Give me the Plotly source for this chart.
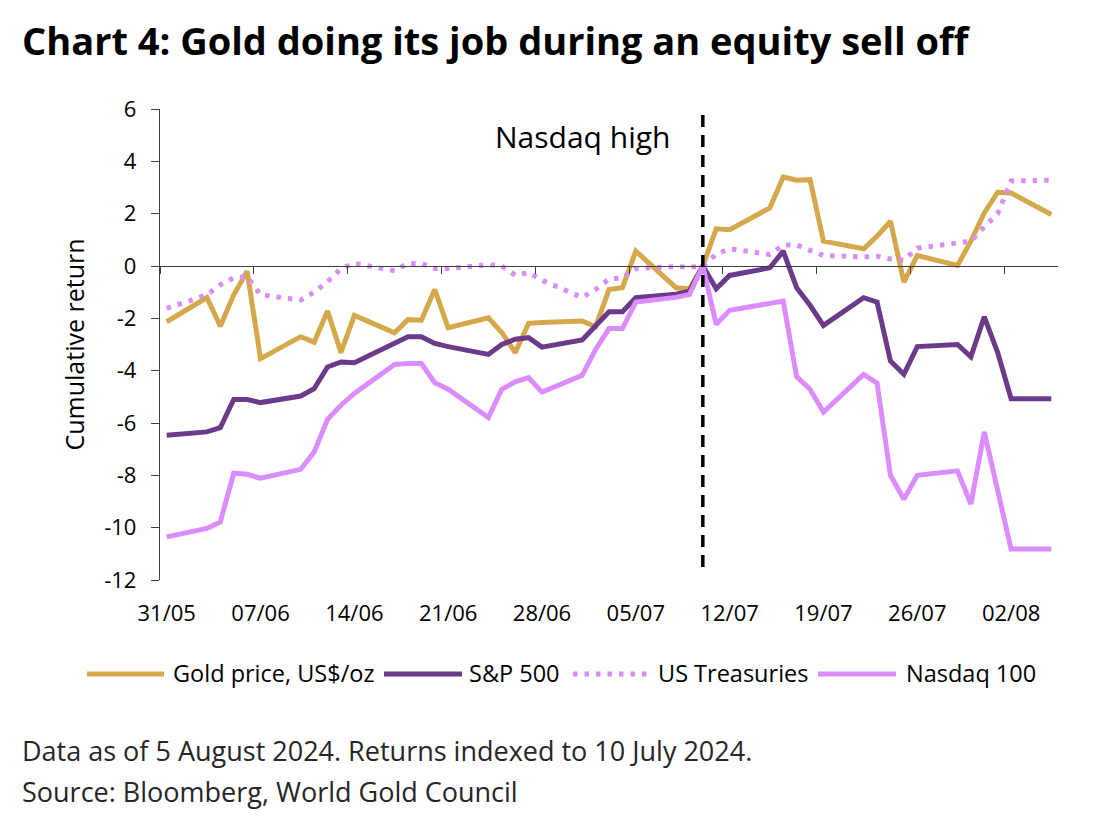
import pandas as pd
import plotly.graph_objects as go

# ---------------- data ----------------
dates = [
    "2024-05-31",
    "2024-06-03", "2024-06-04", "2024-06-05", "2024-06-06", "2024-06-07",
    "2024-06-10", "2024-06-11", "2024-06-12", "2024-06-13", "2024-06-14",
    "2024-06-17", "2024-06-18", "2024-06-19", "2024-06-20", "2024-06-21",
    "2024-06-24", "2024-06-25", "2024-06-26", "2024-06-27", "2024-06-28",
    "2024-07-01", "2024-07-02", "2024-07-03", "2024-07-04", "2024-07-05",
    "2024-07-08", "2024-07-09", "2024-07-10", "2024-07-11", "2024-07-12",
    "2024-07-15", "2024-07-16", "2024-07-17", "2024-07-18", "2024-07-19",
    "2024-07-22", "2024-07-23", "2024-07-24", "2024-07-25", "2024-07-26",
    "2024-07-29", "2024-07-30", "2024-07-31", "2024-08-01", "2024-08-02",
    "2024-08-05",
]

gold = [
    -2.13,
    -1.21, -2.30, -1.10, -0.20, -3.54,
    -2.70, -2.91, -1.72, -3.31, -1.89,
    -2.55, -2.05, -2.07, -0.90, -2.36,
    -1.98, -2.54, -3.31, -2.19, -2.16,
    -2.10, -2.32, -0.90, -0.83, 0.57,
    -0.83, -0.87, 0.00, 1.42, 1.39,
    2.22, 3.40, 3.28, 3.30, 0.95,
    0.66, 1.14, 1.71, -0.62, 0.40,
    0.02, 0.95, 2.03, 2.82, 2.79,
    1.97,
]

sp500 = [
    -6.47,
    -6.34, -6.18, -5.10, -5.10, -5.22,
    -4.97, -4.69, -3.86, -3.67, -3.70,
    -2.93, -2.70, -2.70, -2.96, -3.08,
    -3.38, -3.00, -2.80, -2.74, -3.10,
    -2.83, -2.30, -1.75, -1.75, -1.21,
    -1.08, -0.96, 0.00, -0.87, -0.36,
    -0.07, 0.57, -0.83, -1.50, -2.27,
    -1.21, -1.38, -3.63, -4.14, -3.08,
    -3.00, -3.47, -1.94, -3.31, -5.07,
    -5.07,
]

treasuries = [
    -1.62,
    -1.10, -0.72, -0.45, -0.40, -1.10,
    -1.30, -1.00, -0.60, -0.10, 0.10,
    -0.18, 0.10, 0.10, -0.10, -0.10,
    0.05, 0.00, -0.35, -0.25, -0.55,
    -1.20, -0.90, -0.50, -0.45, -0.10,
    -0.02, -0.05, 0.00, 0.45, 0.66,
    0.44, 0.80, 0.80, 0.60, 0.40,
    0.35, 0.37, 0.27, 0.22, 0.68,
    0.86, 0.95, 1.50, 2.00, 3.25,
    3.28,
]

nasdaq100 = [
    -10.35,
    -10.03, -9.78, -7.92, -7.96, -8.11,
    -7.77, -7.11, -5.86, -5.32, -4.87,
    -3.76, -3.73, -3.73, -4.46, -4.71,
    -5.79, -4.71, -4.43, -4.27, -4.82,
    -4.18, -3.19, -2.39, -2.39, -1.38,
    -1.20, -1.09, 0.00, -2.23, -1.69,
    -1.43, -1.34, -4.23, -4.71, -5.58,
    -4.14, -4.48, -8.00, -8.91, -8.00,
    -7.83, -9.10, -6.34, -8.60, -10.82,
    -10.82,
]

tick_dates = ["2024-05-31", "2024-06-07", "2024-06-14", "2024-06-21", "2024-06-28",
              "2024-07-05", "2024-07-12", "2024-07-19", "2024-07-26", "2024-08-02"]
tick_labels = ["31/05", "07/06", "14/06", "21/06", "28/06",
               "05/07", "12/07", "19/07", "26/07", "02/08"]
y_ticks = [6, 4, 2, 0, -2, -4, -6, -8, -10, -12]
y_tick_labels = ["6", "4", "2", "0", "-2", "-4", "-6", "-8", "-10", "-12"]

nasdaq_high_date = "2024-07-10"
x_start, x_end = "2024-05-31", "2024-08-06"

series_names = ["Gold price, US$/oz", "S&P 500", "US Treasuries", "Nasdaq 100"]
series_values = [gold, sp500, treasuries, nasdaq100]
series_colors = ["#D6A84C", "#6C3A8A", "#D88EF6", "#DB8CFD"]
series_dash = ["solid", "solid", "4.5px,7px", "solid"]

footnotes = ["Data as of 5 August 2024. Returns indexed to 10 July 2024.",
             "Source: Bloomberg, World Gold Council"]

# each value sits in the middle of its day slot (Excel date axis style)
half_day = pd.Timedelta(hours=12)
x_mid = pd.to_datetime(dates) + half_day
tick_mid = pd.to_datetime(tick_dates) + half_day
high_mid = pd.to_datetime(nasdaq_high_date) + half_day

FONT = "Open Sans, Noto Sans, DejaVu Sans, sans-serif"

# page is shown with an 8px body margin -> shift layout up/left by 8px
L, T, PW, PH = 152, 101, 898, 471
W, H = 1100, 821


def px_x(sx):  # screen x -> paper x
    return (sx - 8 - L) / PW


def px_y(sy):  # screen y -> paper y
    return (T + PH - (sy - 8)) / PH


fig = go.Figure()
for name, vals, color, dash in zip(series_names, series_values, series_colors, series_dash):
    fig.add_trace(go.Scatter(
        x=x_mid, y=vals, name=name, mode="lines",
        line=dict(color=color, width=5, dash=dash),
        hoverinfo="skip", showlegend=False,
    ))

# helper trace so the zero-line axis (x2) is drawn
fig.add_trace(go.Scatter(x=[], y=[], xaxis="x2", yaxis="y",
                         showlegend=False, hoverinfo="skip"))

fig.update_layout(
    width=W, height=H, autosize=False,
    paper_bgcolor="white", plot_bgcolor="white",
    margin=dict(l=L, r=W - L - PW, t=T, b=H - T - PH),
    font=dict(family=FONT, color="#000000", size=22),
    title=dict(
        text="<b>Chart 4: Gold doing its job during an equity sell off</b>",
        x=14 / W, xanchor="left", xref="container",
        y=1 - 34 / H, yanchor="middle", yref="container",
        font=dict(family=FONT, size=38, color="#000000"),
    ),
    xaxis=dict(
        type="date", range=[x_start, x_end],
        tickmode="array", tickvals=tick_mid, ticktext=tick_labels,
        ticks="outside", ticklen=0, tickcolor="rgba(0,0,0,0)",
        ticklabelstandoff=14,
        showline=False, showgrid=False, zeroline=False,
        tickfont=dict(family=FONT, size=22, color="#000000"),
    ),
    xaxis2=dict(
        type="date", overlaying="x", matches="x", anchor="free",
        position=12 / 18,
        tickmode="linear", tick0=x_start, dtick=7 * 86400000,
        ticks="outside", ticklen=7, tickcolor="#404040", tickwidth=1.3,
        showticklabels=False,
        showline=True, linecolor="#404040", linewidth=1.3,
        showgrid=False, zeroline=False,
    ),
    yaxis=dict(
        range=[-12, 6], tickmode="array", tickvals=y_ticks, ticktext=y_tick_labels,
        ticks="outside", ticklen=8, tickcolor="#404040", tickwidth=1.3,
        showline=True, linecolor="#404040", linewidth=1.3,
        showgrid=False, zeroline=False,
        ticklabelstandoff=10,
        tickfont=dict(family=FONT, size=22, color="#000000"),
        title=dict(text="Cumulative return", standoff=12,
                   font=dict(family=FONT, size=25, color="#000000")),
    ),
    showlegend=False,
)

# legend (drawn as key lines + labels below the plot)
legend_sample_x = [(87, 164), (384, 462), (573, 649), (818, 896)]
legend_text_x = [171, 467, 656, 904]
legend_y = 673
for name, color, dash, (sx0, sx1), tx in zip(series_names, series_colors, series_dash,
                                             legend_sample_x, legend_text_x):
    fig.add_shape(type="line", xref="paper", yref="paper",
                  x0=px_x(sx0), x1=px_x(sx1), y0=px_y(legend_y + 1), y1=px_y(legend_y + 1),
                  line=dict(color=color, width=5, dash=dash))
    fig.add_annotation(xref="paper", yref="paper", x=px_x(tx), y=px_y(legend_y),
                       xanchor="left", yanchor="middle", showarrow=False,
                       text=name, font=dict(family=FONT, size=23.5, color="#000000"))

# Nasdaq high marker
fig.add_shape(type="line", xref="x", yref="paper",
              x0=high_mid, x1=high_mid, y0=px_y(567), y1=px_y(112),
              line=dict(color="#000000", width=3.5, dash="12px,8px"))
fig.add_annotation(x=high_mid, xref="x", y=4.95, yref="y",
                   text="Nasdaq high", showarrow=False,
                   xanchor="right", yanchor="middle", xshift=-31,
                   font=dict(family=FONT, size=30, color="#000000"))

# footnotes
for txt, sy in zip(footnotes, [750, 791]):
    fig.add_annotation(xref="paper", yref="paper", x=px_x(20), y=px_y(sy),
                       xanchor="left", yanchor="middle", showarrow=False,
                       text=txt,
                       font=dict(family="Open Sans, sans-serif", size=27,
                                 color="#262626", weight=400))

fig.write_html("out.html")
